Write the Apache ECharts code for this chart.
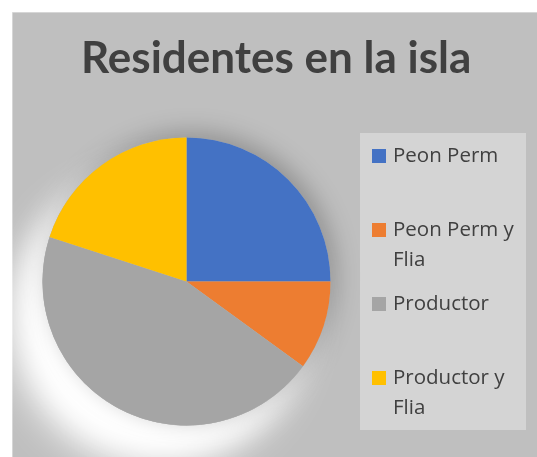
<!DOCTYPE html>
<html>
<head>
<meta charset="utf-8">
<script src="https://cdn.jsdelivr.net/npm/echarts@6/dist/echarts.min.js"></script>
<style>
  html, body { margin: 0; padding: 0; background: #fff; }
  #chart { width: 537px; height: 457px; }
</style>
</head>
<body>
<div id="chart"></div>
<script>
// datos del grafico
const categories = ['Peon Perm', 'Peon Perm y Flia', 'Productor', 'Productor y Flia']
const values = [5, 2, 9, 4]
const colors = ['#4472C4', '#ED7D31', '#A5A5A5', '#FFC000']
// como se parte cada etiqueta en la leyenda
const legendText = ['Peon Perm', '\nPeon Perm y\nFlia', 'Productor', '\nProductor y\nFlia']

const chart = echarts.init(document.getElementById('chart'))

const center = [186.5, 281.5]
const radius = 144
const lineH = 30
const legendY = [156, 230, 304, 378] // centro del icono de cada item

// una leyenda por item, asi se puede ubicar cada una
const legends = categories.map((c, i) => {
  const nLines = legendText[i].split('\n').length
  return {
    orient: 'vertical',
    left: 372,
    top: legendY[i] - nLines * lineH / 2,
    padding: 0,
    itemWidth: 14,
    itemHeight: 14,
    icon: 'rect',
    selectedMode: false,
    formatter: () => legendText[i],
    textStyle: {
      fontFamily: 'Open Sans',
      fontSize: 20.5,
      color: '#404040',
      lineHeight: lineH,
      padding: [0, 0, 0, 2]
    },
    data: [c]
  }
})

const option = {
  animation: false,
  graphic: [
    { type: 'rect', z: -10, shape: { x: 12.5, y: 12.5, width: 530, height: 450 },
      style: { fill: '#bfbfbf', stroke: '#d6d6d6', lineWidth: 1 } },
    { type: 'rect', z: -5, shape: { x: 360, y: 133, width: 166, height: 297 },
      style: { fill: '#d4d4d4' } }
  ],
  title: {
    text: 'Residentes en la isla',
    left: 81,
    top: 37,
    padding: 0,
    textStyle: {
      fontFamily: 'Lato',
      fontWeight: 'bold',
      fontSize: 44,
      color: '#404040'
    }
  },
  legend: legends,
  series: [
    {
      // brillo blanco abajo a la izquierda
      type: 'pie', silent: true, center: center, radius: radius,
      label: { show: false }, labelLine: { show: false },
      itemStyle: { color: '#bfbfbf', shadowColor: 'rgba(255,255,255,1)', shadowBlur: 40, shadowOffsetX: -30, shadowOffsetY: 40 },
      data: [{ value: 1, name: '_bg1' }]
    },
    {
      type: 'pie', silent: true, center: center, radius: radius,
      label: { show: false }, labelLine: { show: false },
      itemStyle: { color: '#bfbfbf', shadowColor: 'rgba(255,255,255,0.9)', shadowBlur: 30, shadowOffsetX: -18, shadowOffsetY: 24 },
      data: [{ value: 1, name: '_bg3' }]
    },
    {
      // sombra oscura arriba a la derecha
      type: 'pie', silent: true, center: center, radius: radius,
      label: { show: false }, labelLine: { show: false },
      itemStyle: { color: '#bfbfbf', shadowColor: 'rgba(0,0,0,0.25)', shadowBlur: 24, shadowOffsetX: 5, shadowOffsetY: -5 },
      data: [{ value: 1, name: '_bg2' }]
    },
    {
      type: 'pie',
      center: center,
      radius: radius,
      startAngle: 90,
      clockwise: true,
      label: { show: false },
      labelLine: { show: false },
      itemStyle: { borderWidth: 0 },
      data: categories.map((c, i) => ({ name: c, value: values[i], itemStyle: { color: colors[i] } }))
    }
  ]
}

chart.setOption(option)
</script>
</body>
</html>
